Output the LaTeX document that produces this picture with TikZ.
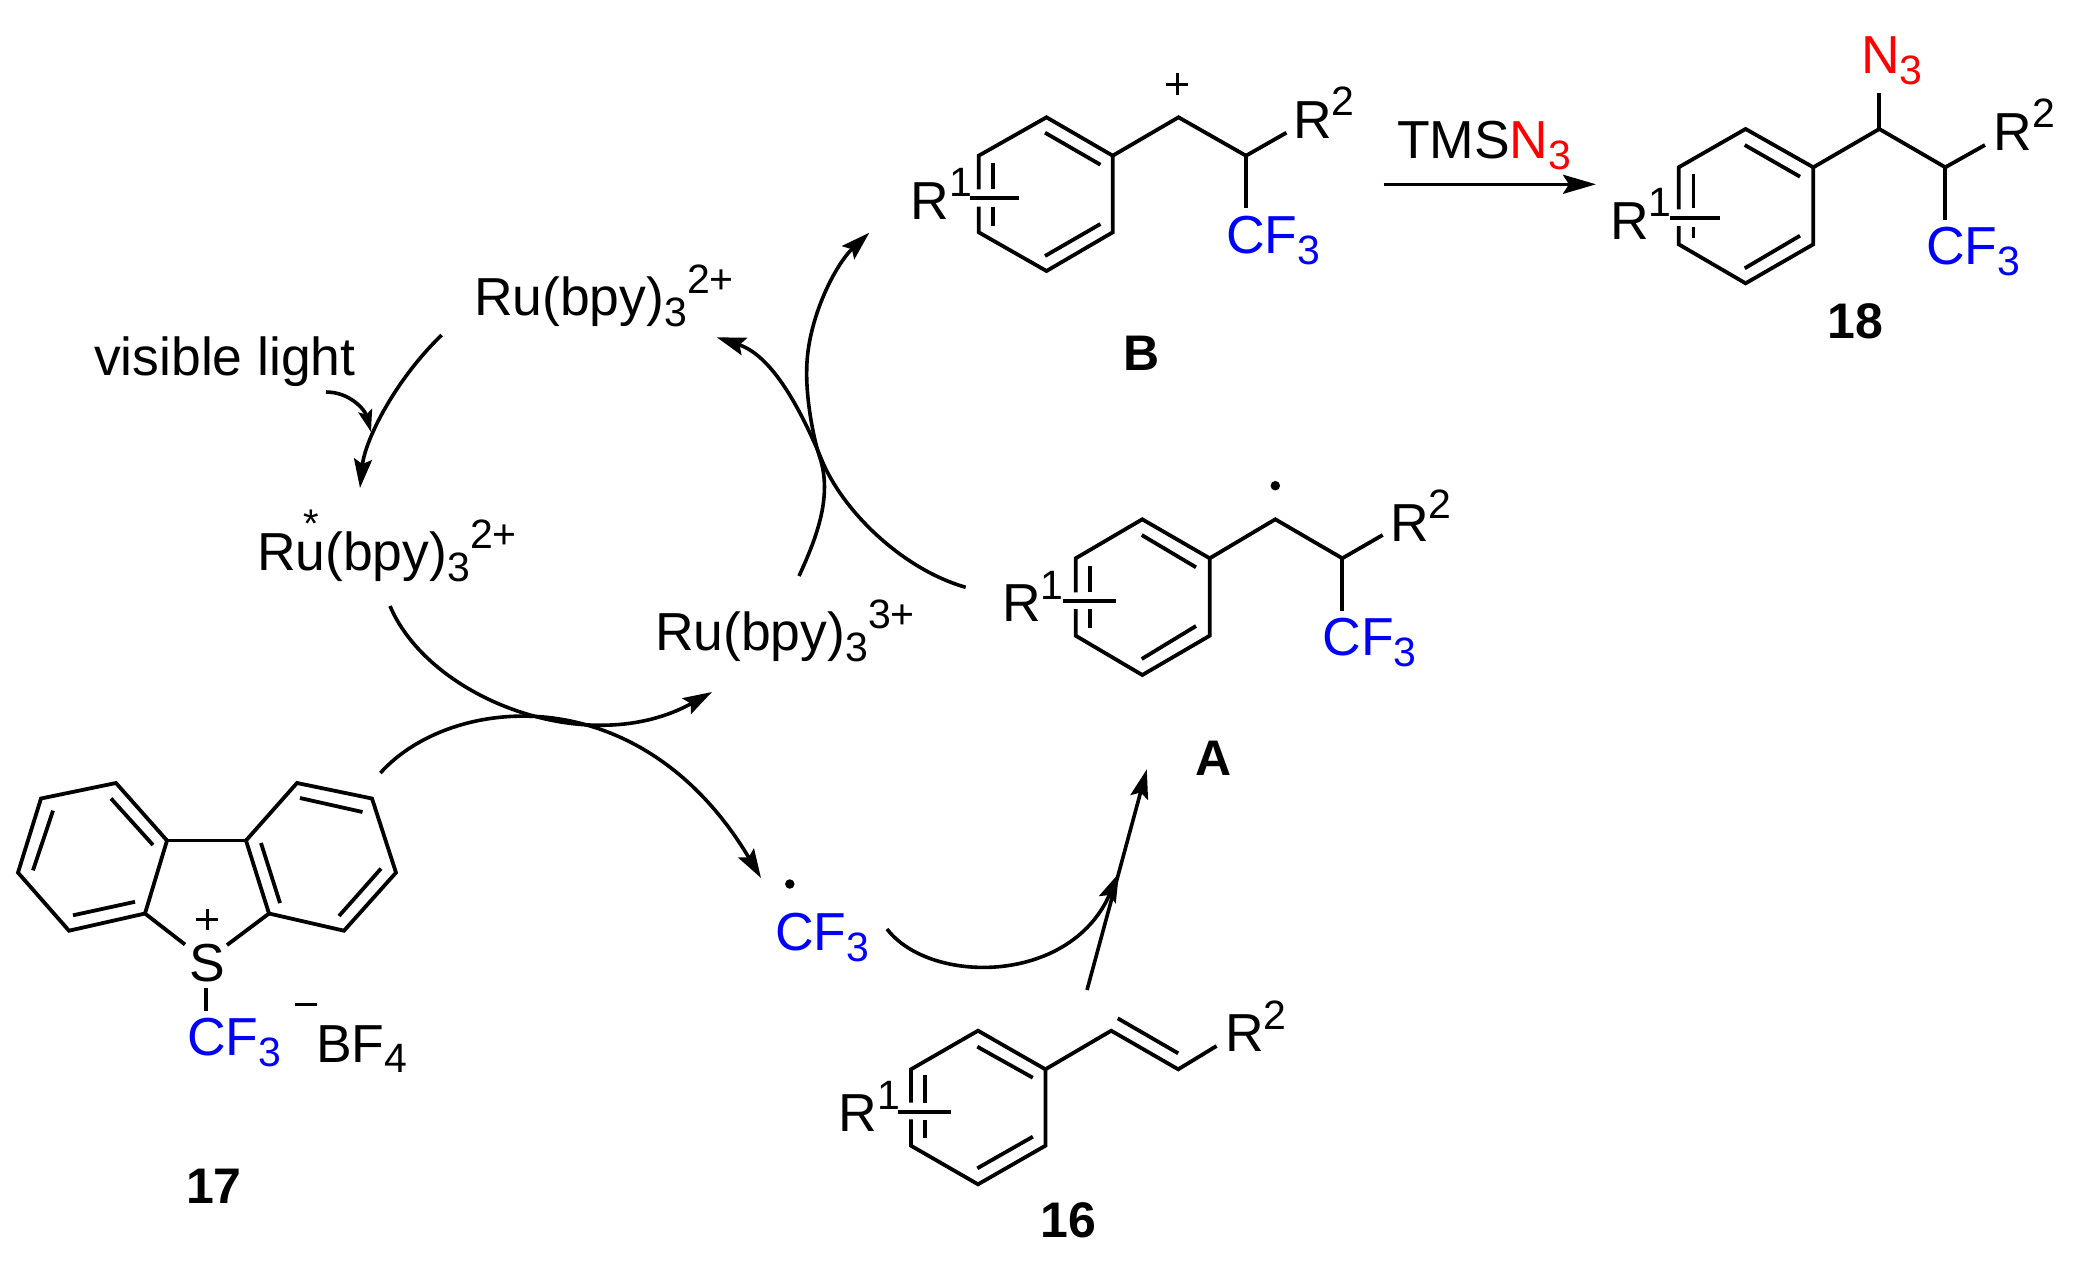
\documentclass[tikz,border=0pt]{standalone}
\usepackage{fontspec}
\setmainfont{Liberation Sans}
\usetikzlibrary{arrows.meta}
\definecolor{cfblue}{RGB}{0,0,255}
\definecolor{nred}{RGB}{255,0,0}
\newcommand\scr[1]{{\fontsize{41}{41}\selectfont #1}}
\newcommand\down[1]{\raisebox{-11pt}{\scr{#1}}}
\newcommand\up[1]{\raisebox{22.5pt}{\scr{#1}}}
\newcommand\cfthree{\textcolor{cfblue}{CF\down{3}}}
\newcommand\rubpy{Ru(bpy)\down{3}}
\tikzset{
  x=1pt,y=-1pt,
  bond/.style={line width=3.8pt,line join=miter,line cap=butt,draw=black},
  curved/.style={line width=3.6pt,draw=black,-{Stealth[length=29pt,width=18pt,inset=5pt]}},
  lab/.style={inner sep=0pt,outer sep=0pt,anchor=base west,font=\fontsize{53.5}{60}\selectfont},
  num/.style={inner sep=0pt,outer sep=0pt,anchor=base,font=\fontsize{50}{60}\selectfont\bfseries},
  chg/.style={line width=3pt,draw=black},
  radical/.style={circle,fill=black,inner sep=0pt,minimum size=9.5pt}
}
\begin{document}
\begin{tikzpicture}
\useasboundingbox (0,0) rectangle (2079,1269);
\fill[white] (0,0) rectangle (2079,1269);

% --- compound 17
\draw[bond] (167,840.5) -- (116,783) -- (41,798.5) -- (18,872.6) -- (69,930.7) -- (145,913.5) -- cycle;
\draw[bond] (246,840.5) -- (297,783) -- (372,798.5) -- (396,872.6) -- (344,930.7) -- (269,913.5) -- cycle;
\draw[bond] (167,840.5) -- (246,840.5);
\draw[bond] (111,798.5) -- (153,845);
\draw[bond] (53,810.6) -- (33,870.4);
\draw[bond] (73,915.3) -- (135,901.8);
\draw[bond] (300,798) -- (362.5,812);
\draw[bond] (381,868.6) -- (339,916);
\draw[bond] (261,843) -- (280,903);
\draw[bond] (145,913.5) -- (185,944.5);
\draw[bond] (269,913.5) -- (227,945);
\draw[bond] (206,988) -- (206,1011);
\node[lab] (sulfur) at (189,981) {S};
\draw[chg] (196,919.7) -- (218,919.7) (207,909) -- (207,930);
\node[lab] (cfA) at (187,1055.8) {\cfthree};
\node[lab] (bfour) at (316,1062) {BF\raisebox{-10pt}{\scr{4}}};
\draw[chg] (295,1004.7) -- (317,1004.7);
\node[num] (n17) at (214,1203.6) {17};

% --- intermediate B
\draw[bond] (978.7,189.3) -- (978.7,155.7) -- (1046.5,117.3) -- (1112.7,155.7) -- (1112.7,232.3) -- (1046.5,271) -- (978.7,232.3) -- (978.7,206.7);
\draw[bond] (1112.7,155.7) -- (1178.5,117.3) -- (1246,155.7) -- (1286.4,132.7);
\draw[bond] (1246,155.7) -- (1246,207.7);
\draw[bond] (1045,132.7) -- (1100.4,164.7);
\draw[bond] (1045,256) -- (1100.4,224);
\draw[bond] (993.3,162.7) -- (993.3,189.3);
\draw[bond] (993.3,206.7) -- (993.3,226);
\draw[bond] (970,197.7) -- (1018.5,197.7);
\draw[chg] (1166,84) -- (1188,84) (1177,73) -- (1177,95);
\node[lab] (bR1) at (910.5,219.3) {R\up{1}};
\node[lab] (bR2) at (1293,138.3) {R\up{2}};
\node[lab] (bCF) at (1226,253.3) {\cfthree};
\node[num] (nB) at (1142,370) {B};

% --- product 18
\draw[bond] (1678.7,209.3) -- (1678.7,167.3) -- (1745.6,129) -- (1813.3,167.3) -- (1813.3,244.3) -- (1745.6,283.3) -- (1678.7,244.3) -- (1678.7,226);
\draw[bond] (1813.3,167.3) -- (1879.3,129) -- (1945.3,167.3) -- (1985,145);
\draw[bond] (1945.3,167.3) -- (1945.3,220);
\draw[bond] (1879.3,92.7) -- (1879.3,129);
\draw[bond] (1744.7,145) -- (1800,176.7);
\draw[bond] (1744.7,268.3) -- (1800,235.7);
\draw[bond] (1693.4,174.3) -- (1693.4,208.3);
\draw[bond] (1693.4,226.7) -- (1693.4,238.3);
\draw[bond] (1669.8,217.7) -- (1719.7,217.7);
\node[lab] (pR1) at (1610,239) {R\up{1}};
\node[lab] (pR2) at (1993.5,150) {R\up{2}};
\node[lab] (pCF) at (1926,264.3) {\cfthree};
\node[lab] (pN) at (1861,73.3) {\textcolor{nred}{N\down{3}}};
\node[num] (n18) at (1855,338.3) {18};

% --- reagent arrow
\node[lab] (tms) at (1397,158.3) {TMS\textcolor{nred}{N\down{3}}};
\coordinate (rs) at (1383.6,184.3);
\coordinate (re) at (1596,184.3);
\draw[curved,-{Stealth[length=33pt,width=19pt,inset=6pt]}] (rs) -- (re);

% --- intermediate A
\draw[bond] (1075.7,592.3) -- (1075.7,558.3) -- (1142.3,519.3) -- (1209.7,558.3) -- (1209.7,635.7) -- (1142.3,675) -- (1075.7,635.7) -- (1075.7,609);
\draw[bond] (1209.7,558.3) -- (1275.3,519.3) -- (1342.3,558.3) -- (1382.7,535);
\draw[bond] (1342.3,558.3) -- (1342.3,610.7);
\draw[bond] (1141.7,535) -- (1196,567.3);
\draw[bond] (1141.7,659) -- (1196,626);
\draw[bond] (1090,565.7) -- (1090,592.3);
\draw[bond] (1090,609) -- (1090,628.3);
\draw[bond] (1063.3,600.7) -- (1115.7,600.7);
\node[radical] (aDot) at (1275.3,485.7) {};
\node[lab] (aR1) at (1002,621.7) {R\up{1}};
\node[lab] (aR2) at (1390,541) {R\up{2}};
\node[lab] (aCF) at (1322.5,655.7) {\cfthree};
\node[num] (nA) at (1214,775.7) {A};

% --- alkene 16
\draw[bond] (911,1102.7) -- (911,1069.3) -- (978,1030.7) -- (1045.4,1069.3) -- (1045.4,1145.7) -- (978,1184.3) -- (911,1145.7) -- (911,1119.3);
\draw[bond] (1045.4,1069.3) -- (1111.2,1030.7) -- (1178.2,1069.3) -- (1216.5,1046);
\draw[bond] (1117.7,1018.3) -- (1178.2,1053.3);
\draw[bond] (977.3,1046.7) -- (1032.8,1077.7);
\draw[bond] (977.3,1168.3) -- (1032.8,1136.7);
\draw[bond] (925.2,1075) -- (925.2,1103.3);
\draw[bond] (925.2,1120) -- (925.2,1138.3);
\draw[bond] (898,1111.7) -- (950.5,1111.7);
\node[lab] (aeR1) at (838.7,1131.7) {R\up{1}};
\node[lab] (aeR2) at (1225,1051.7) {R\up{2}};
\node[num] (n16) at (1068,1237.3) {16};

% --- radical CF3
\node[radical] (cfDot) at (789.8,884) {};
\node[lab] (cfR) at (775,950.7) {\cfthree};

% --- ruthenium species
\node[lab] (ruTop) at (474,315.7) {\rubpy\up{2+}};
\node[lab] (ruStar) at (257,570.7) {\rubpy\up{2+}};
\node[lab,font=\fontsize{40}{40}\selectfont] (star) at (303,537) {*};
\node[lab] (ruThree) at (655,650.7) {\rubpy\up{3+}};
\node[lab] (vis) at (94,375) {visible light};

% --- connectors
\coordinate (a1) at (441.7,335);   \coordinate (a2) at (360,488);
\draw[curved] (a1) .. controls (395,380) and (365,440) .. (a2);
\coordinate (l1) at (326,392);     \coordinate (l2) at (371,432);
\draw[curved,-{Stealth[length=22pt,width=14pt,inset=4pt]}] (l1) .. controls (350,392) and (365,410) .. (l2);
\coordinate (b1) at (390,606);     \coordinate (b2) at (712,692);
\draw[curved] (b1) .. controls (430,700) and (590,760) .. (b2);
\coordinate (c1) at (380.4,773);   \coordinate (c2) at (761,878);
\draw[curved] (c1) .. controls (450,695) and (640,675) .. (c2);
\coordinate (d1) at (799,576);     \coordinate (d2) at (869.3,232.7);
\coordinate (dm) at (820,458);     \coordinate (dn) at (806.7,370);
\draw[curved] (d1) .. controls (818,535) and (832,495) .. (dm)
   .. controls (812,434) and (806,395) .. (dn)
   .. controls (807,320) and (835,265) .. (d2);
\coordinate (e1) at (965.7,587.3); \coordinate (e2) at (716.7,337.3);
\coordinate (em) at (823,463);
\draw[curved] (e1) .. controls (905,570) and (846,515) .. (em)
   .. controls (798,402) and (770,355) .. (e2);
\coordinate (f1) at (887,929);     \coordinate (f2) at (1119,873);
\draw[curved] (f1) .. controls (930,985) and (1070,985) .. (f2);
\coordinate (g1) at (1087,990);    \coordinate (g2) at (1146.8,769.3);
\draw[curved] (g1) -- (g2);
\end{tikzpicture}
\end{document}
